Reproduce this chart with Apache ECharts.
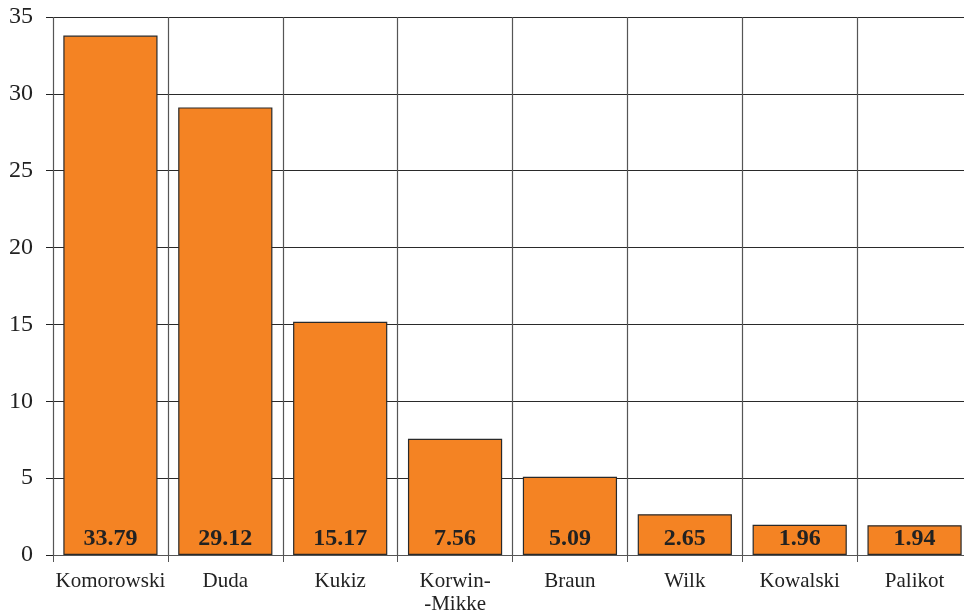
<!DOCTYPE html>
<html>
<head>
<meta charset="utf-8">
<script src="https://cdn.jsdelivr.net/npm/echarts@6/dist/echarts.min.js"></script>
<style>
  html, body { margin: 0; padding: 0; background: #fff; }
  #chart { width: 964px; height: 612px; }
</style>
</head>
<body>
<div id="chart"></div>
<script>
// Candidates and their vote share (%)
const candidates = ['Komorowski', 'Duda', 'Kukiz', 'Korwin-\n-Mikke', 'Braun', 'Wilk', 'Kowalski', 'Palikot'];
const votes = [33.79, 29.12, 15.17, 7.56, 5.09, 2.65, 1.96, 1.94];
const yTicks = { min: 0, max: 35, interval: 5 };

const chart = echarts.init(document.getElementById('chart'));
const serif = '"Liberation Serif", "DejaVu Serif", serif';

chart.setOption({
  animation: false,
  // the plot runs a little past the right edge of the canvas
  grid: { left: 53, width: 919, top: 17, height: 538, containLabel: false, outerBoundsMode: 'none' },
  xAxis: {
    type: 'category',
    data: candidates,
    boundaryGap: true,
    axisLine: { show: true, lineStyle: { color: '#555', width: 1.2 } },
    axisTick: { show: true, length: 7, alignWithLabel: false, lineStyle: { color: '#555' } },
    splitLine: { show: true, lineStyle: { color: '#555', width: 1.2 } },
    axisLabel: {
      fontFamily: serif, fontSize: 21, color: '#222', margin: 15, lineHeight: 23,
      interval: 0
    }
  },
  yAxis: {
    type: 'value',
    min: yTicks.min, max: yTicks.max, interval: yTicks.interval,
    axisLine: { show: false },
    axisTick: { show: true, length: 7, lineStyle: { color: '#222' } },
    splitLine: { show: true, lineStyle: { color: '#2a2a2a', width: 1.2 } },
    axisLabel: { fontFamily: serif, fontSize: 24, color: '#222', margin: 20 }
  },
  series: [{
    type: 'bar',
    data: votes,
    barCategoryGap: '18%',
    itemStyle: { color: '#F48323', borderColor: '#2a2a2a', borderWidth: 1.2 },
    label: {
      show: true,
      position: 'insideBottom',
      distance: 4,
      fontFamily: serif,
      fontWeight: 'bold',
      fontSize: 24,
      color: '#222',
      formatter: p => p.value.toFixed(2)
    }
  }]
});
</script>
</body>
</html>
